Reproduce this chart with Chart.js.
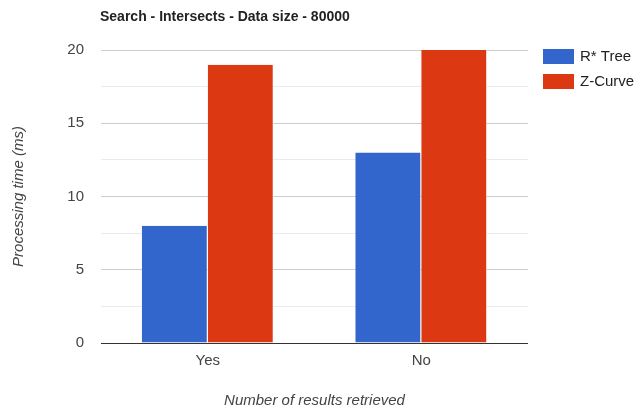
<!DOCTYPE html>
<html>
<head>
<meta charset="utf-8">
<script src="https://cdn.jsdelivr.net/npm/chart.js@4/dist/chart.umd.min.js"></script>
<style>
  html, body { margin: 0; padding: 0; background: #fff; }
  #wrap { width: 636px; height: 411px; }
</style>
</head>
<body>
<div id="wrap"><canvas id="c" width="636" height="411"></canvas></div>
<script>
// Chart content
const chartTitle = 'Search - Intersects - Data size - 80000';
const categories = ['Yes', 'No'];
const seriesNames = ['R* Tree', 'Z-Curve'];
const rTreeTimes = [8, 13];
const zCurveTimes = [19, 20];
const yAxisTitle = 'Processing time (ms)';
const xAxisTitle = 'Number of results retrieved';
const yMajorTicks = [0, 5, 10, 15, 20];

const FONT = "'Liberation Sans', Arial, sans-serif";
const colors = ['#3366cc', '#dc3912'];

// Title drawn flush with the left edge of the plot area
const titlePlugin = {
  id: 'leftTitle',
  afterDraw(chart) {
    const ctx = chart.ctx;
    ctx.save();
    ctx.font = 'bold 14px ' + FONT;
    ctx.fillStyle = '#222';
    ctx.textBaseline = 'alphabetic';
    ctx.textAlign = 'left';
    ctx.fillText(chartTitle, 100, 20.5);
    ctx.restore();
  }
};

// Legend to the right of the plot, top aligned
const sideLegend = {
  id: 'sideLegend',
  afterDraw(chart) {
    const ctx = chart.ctx;
    const x = 543;
    ctx.save();
    ctx.font = '15px ' + FONT;
    ctx.textBaseline = 'middle';
    ctx.textAlign = 'left';
    chart.data.datasets.forEach((ds, i) => {
      const y = 49 + i * 25;
      ctx.fillStyle = ds.backgroundColor;
      ctx.fillRect(x, y, 31, 15);
      ctx.fillStyle = '#222';
      ctx.fillText(ds.label, x + 37, y + 8);
    });
    ctx.restore();
  }
};

new Chart(document.getElementById('c'), {
  type: 'bar',
  data: {
    labels: categories,
    datasets: [
      { label: seriesNames[0], data: rTreeTimes, backgroundColor: colors[0] },
      { label: seriesNames[1], data: zCurveTimes, backgroundColor: colors[1] }
    ]
  },
  options: {
    responsive: false,
    animation: false,
    layout: { padding: { top: 50, right: 108, left: 0, bottom: 0 } },
    datasets: {
      bar: {
        categoryPercentage: 0.618,
        barPercentage: 1,
        borderWidth: { left: 0, right: 1, top: 0, bottom: 0 },
        borderColor: 'rgba(255,255,255,0.85)',
        borderSkipped: false
      }
    },
    plugins: {
      legend: { display: false },
      title: { display: false },
      tooltip: { enabled: false }
    },
    scales: {
      x: {
        afterFit(s) { s.height = 68; },
        grid: { display: false, drawTicks: false },
        border: { display: false },
        ticks: { color: '#444', font: { family: FONT, size: 15 }, padding: 9 },
        title: {
          display: true, text: xAxisTitle, color: '#444',
          font: { family: FONT, size: 15, style: 'italic' },
          padding: { top: 0, bottom: 1 }
        }
      },
      y: {
        min: 0, max: 20,
        afterFit(s) { s.width = 101; },
        afterBuildTicks(s) {
          // major ticks every 5 with a minor line halfway between
          const t = [];
          for (let i = 0; i < yMajorTicks.length; i++) {
            t.push({ value: yMajorTicks[i] });
            if (i < yMajorTicks.length - 1) t.push({ value: (yMajorTicks[i] + yMajorTicks[i + 1]) / 2 });
          }
          s.ticks = t;
        },
        border: { display: false },
        grid: {
          drawTicks: false,
          color: c => c.tick.value === 0 ? '#333' : (yMajorTicks.includes(c.tick.value) ? '#cccccc' : '#ebebeb'),
          lineWidth: 1
        },
        ticks: {
          color: '#444', font: { family: FONT, size: 15 }, padding: 17,
          callback: v => yMajorTicks.includes(v) ? String(v) : ''
        },
        title: {
          display: true, text: yAxisTitle, color: '#444',
          font: { family: FONT, size: 15, style: 'italic' },
          padding: { top: 10, bottom: 0 }
        }
      }
    }
  },
  plugins: [titlePlugin, sideLegend]
});
</script>
</body>
</html>
